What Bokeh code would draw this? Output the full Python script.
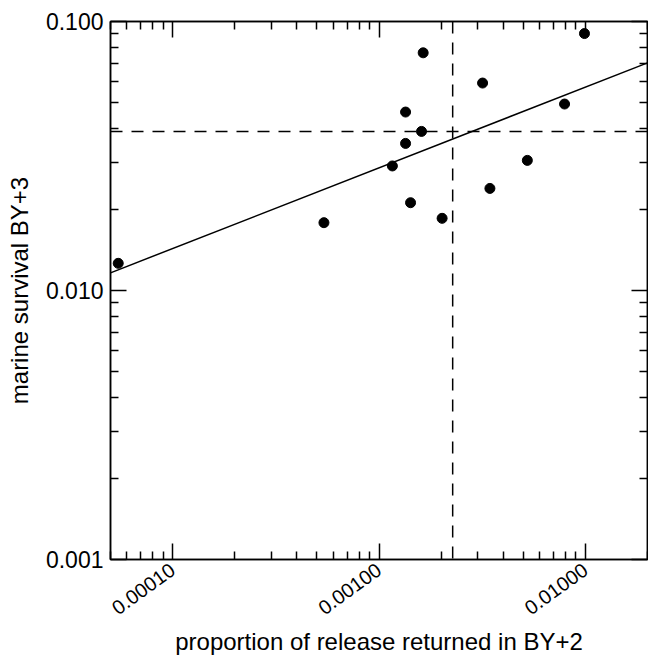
import math
import numpy as np
from bokeh.plotting import figure
from bokeh.models import LogAxis, FixedTicker, Span, PrintfTickFormatter, Range1d
from bokeh.embed import file_html
from bokeh.resources import INLINE

# ---- data ----
returns_by2 = [5.45e-5, 5.41e-4, 1.161e-3, 1.345e-3, 1.345e-3, 1.607e-3, 1.637e-3,
               1.422e-3, 2.022e-3, 3.176e-3, 3.447e-3, 5.233e-3, 7.927e-3, 9.90e-3]
survival_by3 = [0.01262, 0.01787, 0.02904, 0.04607, 0.03522, 0.03903, 0.07649,
                0.0212, 0.01855, 0.05905, 0.02396, 0.03046, 0.04934, 0.0902]
fit_slope = 0.30
fit_log10_intercept = -0.644
ref_return = 0.002275
ref_survival = 0.039
x_limits = [5e-5, 0.02]
y_limits = [0.001, 0.1]
x_major = [1e-4, 1e-3, 1e-2]
x_major_labels = ["0.00010", "0.00100", "0.01000"]
y_major = [0.001, 0.01, 0.1]
y_major_labels = ["0.001", "0.010", "0.100"]
x_title = "proportion of release returned in BY+2"
y_title = "marine survival BY+3"

FONT = "Liberation Sans"


def minor_ticks(lo, hi):
    out = []
    for e in range(int(math.floor(math.log10(lo))) - 1, int(math.ceil(math.log10(hi))) + 1):
        for m in range(2, 10):
            v = m * 10.0 ** e
            if lo <= v <= hi:
                out.append(v)
    return out


x_ticker = FixedTicker(ticks=x_major, minor_ticks=minor_ticks(*x_limits))
y_ticker = FixedTicker(ticks=y_major, minor_ticks=minor_ticks(*y_limits))

p = figure(width=648, height=660, x_axis_type="log", y_axis_type="log",
           x_range=Range1d(*x_limits), y_range=Range1d(*y_limits),
           output_backend="svg", toolbar_location=None,
           min_border_left=110, min_border_right=1, min_border_top=21, min_border_bottom=101,
           x_axis_label=x_title, y_axis_label=y_title)
p.xgrid.visible = False
p.ygrid.visible = False
p.outline_line_color = "black"
p.outline_line_width = 1.5
p.background_fill_color = "white"
p.border_fill_color = "white"


def style_axis(ax, ticker):
    ax.ticker = ticker
    ax.axis_line_color = "black"
    ax.axis_line_width = 1.5
    ax.major_tick_in = 16
    ax.major_tick_out = 0
    ax.minor_tick_in = 8
    ax.minor_tick_out = 0
    ax.major_tick_line_color = "black"
    ax.minor_tick_line_color = "black"
    ax.major_tick_line_width = 1.5
    ax.minor_tick_line_width = 1.5
    ax.major_label_text_font = FONT
    ax.major_label_text_color = "black"
    ax.axis_label_text_font = FONT
    ax.axis_label_text_font_style = "normal"
    ax.axis_label_text_color = "black"


xa = p.xaxis[0]
style_axis(xa, x_ticker)
xa.formatter = PrintfTickFormatter(format="%.5f")
xa.major_label_text_font_size = "20px"
xa.major_label_orientation = math.radians(36)
xa.major_label_standoff = 8
xa.axis_label_text_font_size = "24px"
xa.axis_label_standoff = 4

ya = p.yaxis[0]
style_axis(ya, y_ticker)
ya.formatter = PrintfTickFormatter(format="%.3f")
ya.major_label_text_font_size = "23px"
ya.major_label_standoff = 7
ya.axis_label_text_font_size = "24px"
ya.axis_label_standoff = 10

for side, tk in (("above", x_ticker), ("right", y_ticker)):
    ax = LogAxis()
    style_axis(ax, tk)
    ax.formatter = PrintfTickFormatter(format="%.3f")
    ax.major_label_text_font_size = "1px"
    ax.major_label_text_alpha = 0
    ax.major_label_standoff = 0
    p.add_layout(ax, side)

# regression line
xs = np.array(x_limits)
ys = 10 ** (fit_log10_intercept + fit_slope * np.log10(xs))
p.line(xs, ys, line_color="black", line_width=1.5)

# reference lines
p.add_layout(Span(location=ref_return, dimension="height", line_color="black",
                  line_width=1.5, line_dash="12 9"))
p.add_layout(Span(location=ref_survival, dimension="width", line_color="black",
                  line_width=1.5, line_dash="12 9"))

p.scatter(returns_by2, survival_by3, size=10, fill_color="black", line_color="black")

open("out.html", "w").write(file_html(p, INLINE))
